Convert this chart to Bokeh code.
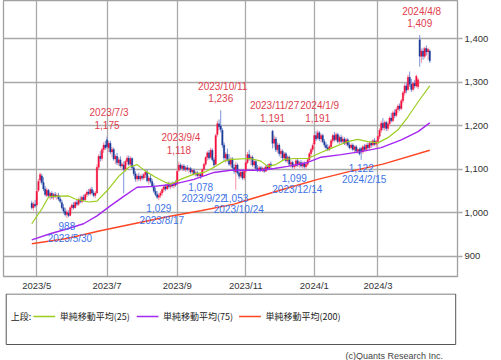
import pandas as pd
from bokeh.plotting import figure
from bokeh.models import Range1d, FixedTicker, NumeralTickFormatter, ColumnDataSource
from bokeh.layouts import column
from bokeh.core.properties import value
from bokeh.embed import file_html
from bokeh.resources import INLINE

# ---------------- data ----------------
holidays = ["2023-05-03", "2023-05-04", "2023-05-05", "2023-07-17", "2023-08-11",
            "2023-09-18", "2023-10-09", "2023-11-03", "2023-11-23", "2024-01-01",
            "2024-01-02", "2024-01-03", "2024-01-08", "2024-02-12", "2024-02-23",
            "2024-03-20"]

opens = [
    1022, 1012, 1020,
    1018, 1052, 1075, 1085, 1070, 1055, 1040, 1052, 1038, 1045,
    1036, 1042, 1038, 1040, 1032, 1024, 1012, 1004, 996, 1000,
    994, 1012, 1018, 1012, 1024, 1020, 1030, 1026, 1036, 1030,
    1042, 1048, 1044, 1054, 1046, 1040, 1046, 1105, 1130, 1125,
    1146, 1156, 1168, 1150, 1160, 1140, 1146, 1124, 1130, 1115,
    1122, 1108, 1110, 1100, 1118, 1126, 1112, 1125, 1104, 1090,
    1078, 1085, 1078, 1084, 1080, 1088, 1094, 1074, 1080, 1072,
    1062, 1050, 1042, 1036, 1040, 1046, 1054, 1060, 1055, 1064,
    1060, 1066, 1062, 1068, 1066, 1098, 1110, 1102, 1108, 1100,
    1104, 1100, 1102, 1094, 1098, 1090, 1092, 1086, 1088, 1084,
    1100, 1112, 1128, 1138, 1128, 1144, 1122, 1112, 1180, 1205,
    1200, 1190, 1156, 1126, 1135, 1122, 1112, 1124, 1104, 1094,
    1110, 1092, 1084, 1094, 1080, 1096, 1116, 1134, 1124, 1128,
    1110, 1118, 1102, 1098, 1104, 1098, 1102, 1096, 1106, 1102,
    1112, 1188, 1160, 1170, 1145, 1156, 1136, 1142, 1126, 1136,
    1120, 1128, 1112, 1116, 1106, 1108, 1120, 1110, 1116, 1108,
    1114, 1106, 1112, 1122, 1136, 1146, 1158, 1178, 1172, 1184,
    1170, 1178, 1164, 1156, 1150, 1146, 1152, 1166, 1178, 1168,
    1180, 1164, 1174, 1164, 1170, 1160, 1168, 1156, 1150, 1156,
    1146, 1152, 1142, 1146, 1148, 1140, 1152, 1146, 1156, 1150,
    1160, 1156, 1166, 1158, 1164, 1176, 1190, 1206, 1196, 1208,
    1194, 1205, 1218, 1212, 1230, 1224, 1238, 1246, 1240, 1258,
    1276, 1292, 1284, 1312, 1296, 1284, 1298, 1292, 1290, 1398,
    1360, 1372, 1360, 1378, 1370, 1372]

highs = [
    1028, 1025, 1030,
    1055, 1078, 1093, 1090, 1082, 1062, 1058, 1055, 1048, 1050,
    1046, 1048, 1045, 1046, 1040, 1030, 1020, 1012, 1008, 1006,
    1015, 1022, 1025, 1028, 1032, 1035, 1038, 1040, 1042, 1045,
    1052, 1055, 1058, 1060, 1052, 1050, 1112, 1135, 1142, 1150,
    1162, 1165, 1175, 1165, 1166, 1152, 1150, 1135, 1138, 1128,
    1130, 1116, 1118, 1122, 1132, 1132, 1130, 1128, 1108, 1096,
    1090, 1092, 1088, 1090, 1092, 1098, 1100, 1085, 1088, 1078,
    1068, 1058, 1050, 1046, 1050, 1058, 1062, 1066, 1068, 1072,
    1070, 1072, 1070, 1075, 1100, 1118, 1114, 1112, 1112, 1108,
    1110, 1106, 1106, 1102, 1102, 1096, 1096, 1092, 1092, 1102,
    1115, 1130, 1142, 1145, 1150, 1148, 1128, 1182, 1212, 1215,
    1236, 1195, 1162, 1140, 1148, 1135, 1128, 1128, 1112, 1118,
    1114, 1100, 1098, 1100, 1100, 1120, 1140, 1145, 1132, 1132,
    1122, 1122, 1110, 1108, 1108, 1106, 1106, 1110, 1112, 1115,
    1118, 1191, 1178, 1175, 1162, 1160, 1148, 1146, 1140, 1140,
    1132, 1132, 1122, 1120, 1112, 1124, 1124, 1120, 1122, 1118,
    1118, 1116, 1126, 1140, 1150, 1160, 1182, 1188, 1191, 1188,
    1182, 1182, 1170, 1162, 1158, 1156, 1170, 1182, 1186, 1185,
    1184, 1178, 1180, 1176, 1174, 1172, 1172, 1162, 1160, 1160,
    1155, 1156, 1150, 1150, 1152, 1156, 1158, 1160, 1162, 1165,
    1166, 1170, 1172, 1168, 1180, 1195, 1212, 1218, 1212, 1212,
    1210, 1222, 1230, 1235, 1238, 1242, 1250, 1252, 1262, 1280,
    1298, 1300, 1318, 1325, 1308, 1302, 1306, 1318, 1310, 1409,
    1378, 1380, 1382, 1385, 1380, 1376]

lows = [
    1008, 1005, 1012,
    1015, 1048, 1068, 1065, 1050, 1038, 1036, 1035, 1030, 1032,
    1030, 1034, 1030, 1028, 1022, 1008, 998, 992, 988, 990,
    992, 1005, 1008, 1010, 1016, 1016, 1022, 1022, 1026, 1028,
    1036, 1040, 1040, 1042, 1036, 1034, 1044, 1100, 1118, 1120,
    1138, 1145, 1148, 1140, 1135, 1128, 1120, 1112, 1110, 1108,
    1104, 1098, 1045, 1095, 1110, 1108, 1108, 1100, 1085, 1072,
    1072, 1074, 1072, 1075, 1076, 1080, 1070, 1065, 1068, 1058,
    1046, 1038, 1032, 1029, 1034, 1040, 1048, 1050, 1052, 1056,
    1055, 1058, 1056, 1060, 1064, 1094, 1098, 1096, 1096, 1094,
    1096, 1092, 1090, 1088, 1086, 1084, 1082, 1080, 1078, 1082,
    1096, 1108, 1120, 1122, 1124, 1118, 1105, 1110, 1175, 1190,
    1185, 1150, 1120, 1115, 1118, 1108, 1105, 1100, 1090, 1053,
    1088, 1078, 1080, 1076, 1075, 1092, 1112, 1120, 1110, 1106,
    1102, 1098, 1094, 1094, 1094, 1094, 1092, 1094, 1098, 1098,
    1100, 1148, 1150, 1140, 1138, 1130, 1126, 1120, 1120, 1116,
    1114, 1108, 1104, 1102, 1099, 1104, 1106, 1104, 1104, 1102,
    1102, 1100, 1108, 1118, 1128, 1140, 1150, 1165, 1168, 1165,
    1162, 1160, 1150, 1145, 1142, 1142, 1148, 1160, 1164, 1164,
    1160, 1158, 1160, 1158, 1156, 1154, 1152, 1146, 1146, 1142,
    1140, 1138, 1136, 1132, 1122, 1136, 1142, 1142, 1146, 1146,
    1150, 1152, 1154, 1150, 1158, 1170, 1184, 1190, 1190, 1188,
    1188, 1200, 1208, 1208, 1218, 1220, 1230, 1234, 1236, 1252,
    1270, 1275, 1280, 1290, 1278, 1280, 1286, 1288, 1284, 1336,
    1345, 1352, 1355, 1362, 1352, 1345]

closes = [
    1012, 1020, 1016,
    1050, 1072, 1088, 1070, 1055, 1042, 1052, 1040, 1045, 1036,
    1042, 1038, 1040, 1032, 1026, 1012, 1004, 996, 1002, 994,
    1012, 1018, 1012, 1024, 1020, 1030, 1026, 1036, 1030, 1042,
    1048, 1044, 1054, 1046, 1040, 1046, 1105, 1130, 1125, 1146,
    1156, 1150, 1152, 1160, 1140, 1146, 1124, 1130, 1115, 1122,
    1108, 1112, 1100, 1118, 1126, 1112, 1125, 1104, 1090, 1078,
    1085, 1078, 1084, 1080, 1088, 1094, 1074, 1080, 1072, 1062,
    1050, 1042, 1036, 1040, 1046, 1054, 1060, 1055, 1064, 1060,
    1066, 1062, 1068, 1064, 1096, 1110, 1102, 1108, 1100, 1104,
    1100, 1102, 1094, 1098, 1090, 1092, 1086, 1088, 1084, 1100,
    1112, 1128, 1138, 1126, 1144, 1122, 1110, 1178, 1205, 1198,
    1192, 1156, 1126, 1135, 1122, 1112, 1124, 1104, 1096, 1110,
    1092, 1084, 1094, 1080, 1096, 1116, 1134, 1124, 1128, 1110,
    1118, 1102, 1098, 1104, 1098, 1102, 1096, 1106, 1102, 1112,
    1108, 1160, 1170, 1145, 1156, 1136, 1142, 1126, 1136, 1120,
    1128, 1112, 1116, 1106, 1108, 1120, 1110, 1116, 1108, 1114,
    1106, 1112, 1122, 1136, 1146, 1155, 1178, 1170, 1184, 1170,
    1178, 1164, 1156, 1150, 1146, 1152, 1166, 1178, 1168, 1180,
    1164, 1174, 1164, 1170, 1160, 1168, 1156, 1150, 1156, 1146,
    1152, 1142, 1146, 1136, 1140, 1152, 1146, 1156, 1150, 1160,
    1156, 1166, 1158, 1164, 1176, 1190, 1206, 1196, 1208, 1194,
    1205, 1218, 1212, 1230, 1224, 1238, 1246, 1240, 1258, 1276,
    1292, 1282, 1312, 1296, 1284, 1298, 1292, 1314, 1306, 1360,
    1372, 1360, 1378, 1370, 1376, 1350]

# moving averages: sample points (trading-day position, value)
ma25_pos = [0, 6, 10, 12, 22, 26, 34, 39, 46, 52, 58, 63, 68, 74, 80, 83, 89, 97, 103,
            109, 115, 119, 131, 137, 141, 146, 151, 157, 165, 173, 180, 189, 195, 201,
            207, 213, 219, 225, 231, 238]
ma25_val = [975, 1009, 1036, 1038, 1039, 1032, 1025, 1027, 1055, 1084, 1105, 1111, 1096,
            1082, 1070, 1066, 1077, 1089, 1093, 1105, 1119, 1123, 1125, 1119, 1107, 1111,
            1123, 1125, 1125, 1139, 1150, 1164, 1169, 1164, 1161, 1173, 1191, 1221, 1255,
            1292]
ma75_pos = [0, 11, 21, 31, 39, 47, 55, 63, 73, 85, 97, 109, 119, 137, 145, 153, 165,
            173, 185, 197, 209, 221, 231, 238]
ma75_val = [938, 952, 963, 975, 993, 1016, 1038, 1059, 1061, 1066, 1077, 1093, 1098, 1098,
            1102, 1107, 1116, 1128, 1134, 1141, 1150, 1168, 1187, 1207]
ma200_pos = [0, 21, 41, 61, 81, 101, 121, 131, 151, 171, 191, 210, 238]
ma200_val = [929, 941, 959, 975, 991, 1005, 1020, 1032, 1055, 1077, 1096, 1112, 1144]

high_label_dates = ["2023/7/3", "2023/9/4", "2023/10/11", "2023/11/27", "2024/1/9", "2024/4/8"]
low_label_dates = ["2023/5/30", "2023/8/17", "2023/9/22", "2023/10/24", "2023/12/14", "2024/2/15"]

y_ticks = [900, 1000, 1100, 1200, 1300, 1400]
legend_title = "上段:"
legend_labels = ["単純移動平均(25)", "単純移動平均(75)", "単純移動平均(200)"]
credit = "(c)Quants Research Inc."

# ---------------- styles ----------------
UP_BODY, DN_BODY = "#F5103E", "#1F3E98"
UP_WICK, DN_WICK = "#F78FA5", "#7C94DA"
C25, C75, C200 = "#9ACD1E", "#A428F0", "#FF4522"
RED_TXT, BLUE_TXT = "#E0404E", "#3F73E6"
GRID = "#A9A9A9"
FONT = "Liberation Sans"

dates = [d for d in pd.bdate_range("2023-04-26", "2024-04-16")
         if d.strftime("%Y-%m-%d") not in holidays]
n = min(len(dates), len(opens))
dates = dates[:n]
date_str = [f"{d.year}/{d.month}/{d.day}" for d in dates]
xs = list(range(n))

up = [closes[i] >= opens[i] for i in range(n)]
src = ColumnDataSource(dict(
    x=xs, o=opens[:n], h=highs[:n], l=lows[:n], c=closes[:n],
    btop=[max(opens[i], closes[i]) for i in range(n)],
    bbot=[min(opens[i], closes[i]) for i in range(n)],
    body=[UP_BODY if u else DN_BODY for u in up],
    wick=[UP_WICK if u else DN_WICK for u in up],
))

# month ticks (first trading day of odd months)
tick_pos, tick_lab = [], []
for i, d in enumerate(dates):
    if i > 0 and d.month % 2 == 1 and dates[i - 1].month != d.month:
        tick_pos.append(i)
        tick_lab.append(f"{d.year}/{d.month}")

p = figure(width=501, height=293, output_backend="svg", toolbar_location=None,
           x_range=Range1d(-16.9, 254.6), y_range=Range1d(853.7, 1488.4),
           y_axis_location="right", min_border_left=3, min_border_top=0,
           min_border_right=44, min_border_bottom=15)
p.background_fill_color = "white"
p.border_fill_color = "white"
p.outline_line_color = "#A0A0A0"
p.outline_line_width = 1.3

p.xaxis.ticker = FixedTicker(ticks=tick_pos)
p.xaxis.major_label_overrides = {tp: tl for tp, tl in zip(tick_pos, tick_lab)}
p.xaxis.major_tick_out = 0
p.xaxis.major_tick_in = 0
p.xaxis.minor_tick_line_color = None
p.xaxis.axis_line_color = None
p.xaxis.major_label_standoff = 3
p.xaxis.major_label_text_font = FONT
p.xaxis.major_label_text_font_size = "9.5px"
p.xaxis.major_label_text_color = "#333333"

p.yaxis.ticker = FixedTicker(ticks=y_ticks)
p.yaxis.formatter = NumeralTickFormatter(format="0,0")
p.yaxis.major_tick_out = 5
p.yaxis.major_tick_in = 0
p.yaxis.major_tick_line_color = GRID
p.yaxis.major_tick_line_width = 1.3
p.yaxis.minor_tick_line_color = None
p.yaxis.axis_line_color = None
p.yaxis.major_label_standoff = 2
p.yaxis.major_label_text_font = FONT
p.yaxis.major_label_text_font_size = "9.5px"
p.yaxis.major_label_text_color = "#333333"

p.xgrid.grid_line_color = GRID
p.xgrid.grid_line_width = 1.3
p.ygrid.grid_line_color = GRID
p.ygrid.grid_line_width = 1.3

p.segment(x0="x", y0="l", x1="x", y1="h", line_color="wick", line_width=1, source=src)
p.vbar(x="x", width=0.9, top="btop", bottom="bbot", fill_color="body",
       line_color="body", line_width=0.3, source=src)

p.line(ma200_pos, ma200_val, line_color=C200, line_width=1.4)
p.line(ma75_pos, ma75_val, line_color=C75, line_width=1.4)
p.line(ma25_pos, ma25_val, line_color=C25, line_width=1.2)

hp = [date_str.index(s) for s in high_label_dates]
hv = [highs[i] for i in hp]
lp = [date_str.index(s) for s in low_label_dates]
lv = [lows[i] for i in lp]

hsrc = ColumnDataSource(dict(x=hp, y=hv, d=high_label_dates, v=[f"{v:,}" for v in hv]))
lsrc = ColumnDataSource(dict(x=lp, y=lv, d=low_label_dates, v=[f"{v:,}" for v in lv]))
common = dict(text_align="center", text_baseline="middle",
              text_font=value(FONT), text_font_size=value("10px"))
p.text(x="x", y="y", text="v", y_offset=-12, text_color=RED_TXT, source=hsrc, **common)
p.text(x="x", y="y", text="d", y_offset=-24, x_offset=2, text_color=RED_TXT, source=hsrc, **common)
p.text(x="x", y="y", text="v", y_offset=8, text_color=BLUE_TXT, source=lsrc, **common)
p.text(x="x", y="y", text="d", y_offset=20, x_offset=3, text_color=BLUE_TXT, source=lsrc, **common)

# ---------------- legend panel ----------------
lg = figure(width=501, height=67, output_backend="svg", toolbar_location=None,
            x_range=Range1d(0, 501), y_range=Range1d(67, 0),
            x_axis_location=None, y_axis_location=None,
            min_border=0, min_border_left=0, min_border_right=0,
            min_border_top=0, min_border_bottom=0)
lg.grid.visible = False
lg.outline_line_color = None
lg.background_fill_color = "white"
lg.border_fill_color = "white"
lg.quad(left=[3], right=[499], top=[0.5], bottom=[51], fill_color="white",
        line_color="#555555", line_width=1)
cjk = dict(text_baseline="middle", text_font=value("Noto Sans CJK JP"),
           text_font_size=value("9px"), text_color="#222222")
lg.text(x=[8], y=[23], text=[legend_title], **cjk)
seg_x0 = [33, 147, 260]
for k, col in enumerate([C25, C75, C200]):
    lg.segment(x0=[seg_x0[k]], y0=[23], x1=[seg_x0[k] + 24], y1=[23], line_color=col, line_width=1.3)
lg.text(x=[s + 29 for s in seg_x0], y=[23] * 3, text=legend_labels, **cjk)
lg.text(x=[485], y=[62], text=[credit], text_align="right",
        text_baseline="middle", text_font=value(FONT), text_font_size=value("9px"),
        text_color="#444444")

layout = column(p, lg, spacing=0)
open("out.html", "w").write(file_html(layout, INLINE))
